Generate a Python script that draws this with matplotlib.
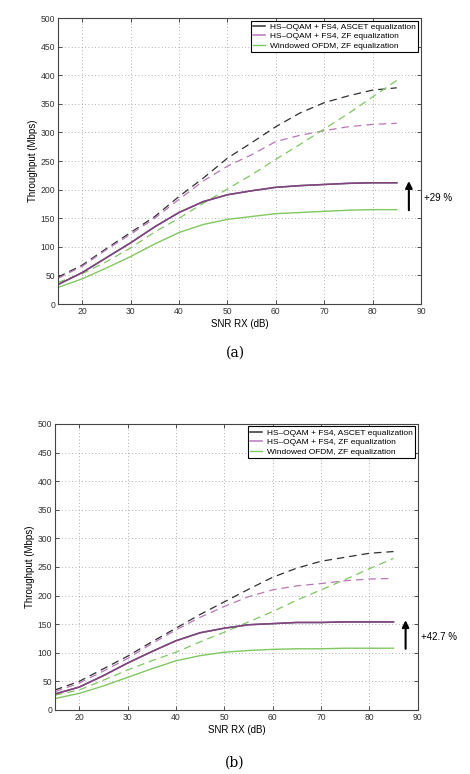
import matplotlib
matplotlib.use("Agg")
import matplotlib.pyplot as plt

snr = [15, 20, 25, 30, 35, 40, 45, 50, 55, 60, 65, 70, 75, 80, 85]

# (a)
a_ascet_ideal = [47, 68, 97, 125, 153, 188, 220, 255, 282, 310, 334, 352, 364, 374, 378]
a_zf_ideal = [45, 66, 95, 122, 150, 183, 215, 241, 261, 284, 295, 303, 310, 314, 316]
a_ofdm_ideal = [38, 53, 74, 98, 126, 150, 176, 201, 226, 253, 279, 306, 333, 362, 391]
a_ascet = [34, 55, 81, 107, 135, 160, 179, 191, 198, 204, 207, 209, 211, 212, 212]
a_zf = [34, 55, 81, 107, 135, 160, 179, 191, 198, 204, 207, 209, 211, 212, 212]
a_ofdm = [29, 44, 63, 83, 105, 125, 139, 148, 153, 158, 160, 162, 164, 165, 165]

# (b)
b_ascet_ideal = [35, 50, 72, 94, 119, 143, 167, 189, 211, 232, 248, 260, 267, 274, 277]
b_zf_ideal = [32, 47, 68, 90, 116, 140, 162, 181, 198, 210, 217, 221, 226, 229, 230]
b_ofdm_ideal = [26, 35, 52, 70, 86, 101, 119, 136, 154, 172, 192, 210, 228, 247, 265]
b_ascet = [28, 40, 60, 82, 102, 121, 135, 143, 149, 151, 153, 153, 154, 154, 154]
b_zf = [28, 40, 60, 82, 102, 121, 135, 143, 149, 151, 153, 153, 154, 154, 154]
b_ofdm = [20, 29, 42, 57, 72, 86, 95, 101, 104, 106, 107, 107, 108, 108, 108]

labels = ["HS\u2013OQAM + FS4, ASCET equalization",
          "HS\u2013OQAM + FS4, ZF equalization",
          "Windowed OFDM, ZF equalization"]
gains = ["+29 %", "+42.7 %"]
captions = ["(a)", "(b)"]
xticks = [20, 30, 40, 50, 60, 70, 80, 90]
yticks = [0, 50, 100, 150, 200, 250, 300, 350, 400, 450, 500]

plt.rcParams['font.family'] = ['Liberation Sans', 'DejaVu Sans']

C_BLACK = '#303030'
C_PURPLE = '#a04aa0'
C_PURPLE_D = '#b878b8'
C_GREEN = '#80c860'

fig = plt.figure(figsize=(4.70, 7.74), dpi=100)
axes_pos = [[0.1234, 0.6072, 0.7723, 0.3695], [0.117, 0.0827, 0.7717, 0.3695]]
caption_y = [353, 763]
datasets = [
    (a_ascet_ideal, a_zf_ideal, a_ofdm_ideal, a_ascet, a_zf, a_ofdm),
    (b_ascet_ideal, b_zf_ideal, b_ofdm_ideal, b_ascet, b_zf, b_ofdm),
]

for i, (pos, data) in enumerate(zip(axes_pos, datasets)):
    ai, zi, oi, a_, z_, o_ = data
    ax = fig.add_axes(pos)
    ax.plot(snr, ai, color=C_BLACK, lw=0.9, ls=(0, (6, 4)))
    ax.plot(snr, zi, color=C_PURPLE_D, lw=0.9, ls=(0, (6, 4)))
    ax.plot(snr, oi, color=C_GREEN, lw=0.9, ls=(0, (6, 4)))
    l1, = ax.plot(snr, a_, color=C_BLACK, lw=1.1, label=labels[0])
    l2, = ax.plot(snr, z_, color=C_PURPLE, lw=1.1, alpha=0.75, label=labels[1])
    l3, = ax.plot(snr, o_, color=C_GREEN, lw=1.0, label=labels[2])
    ax.set_xlim(15, 90)
    ax.set_ylim(0, 500)
    ax.set_xticks(xticks)
    ax.set_yticks(yticks)
    ax.tick_params(direction='in', length=3, width=0.6, labelsize=6.2,
                   top=True, right=True, pad=2, colors='#333333')
    ax.grid(True, ls=(0, (1, 3)), color='#999999', lw=0.6)
    for s in ax.spines.values():
        s.set_linewidth(0.8)
        s.set_color('#444444')
    ax.set_xlabel("SNR RX (dB)", fontsize=7.0, labelpad=2)
    ax.set_ylabel("Throughput (Mbps)", fontsize=7.0, labelpad=2)
    leg = ax.legend(handles=[l1, l2, l3], loc='upper right', fontsize=6.0,
                    handlelength=1.4, handletextpad=0.6, borderpad=0.3,
                    labelspacing=0.2, fancybox=False, framealpha=1,
                    borderaxespad=0.3)
    leg.get_frame().set_edgecolor('black')
    leg.get_frame().set_linewidth(0.8)
    ax.annotate('', xy=(87.5, a_[-1] + 3), xytext=(87.5, o_[-1] - 1),
                arrowprops=dict(arrowstyle='-|>', color='black', lw=1.5,
                                mutation_scale=10, shrinkA=0, shrinkB=0))
    ax.text(90.7, (a_[-1] + o_[-1]) / 2 - 3, gains[i], fontsize=7,
            va='center', ha='left', clip_on=False)
    fig.text(0.5, 1 - caption_y[i] / 774, captions[i], ha='center',
             va='center', fontsize=10, family='DejaVu Serif')

fig.savefig("out.png", dpi=100)
